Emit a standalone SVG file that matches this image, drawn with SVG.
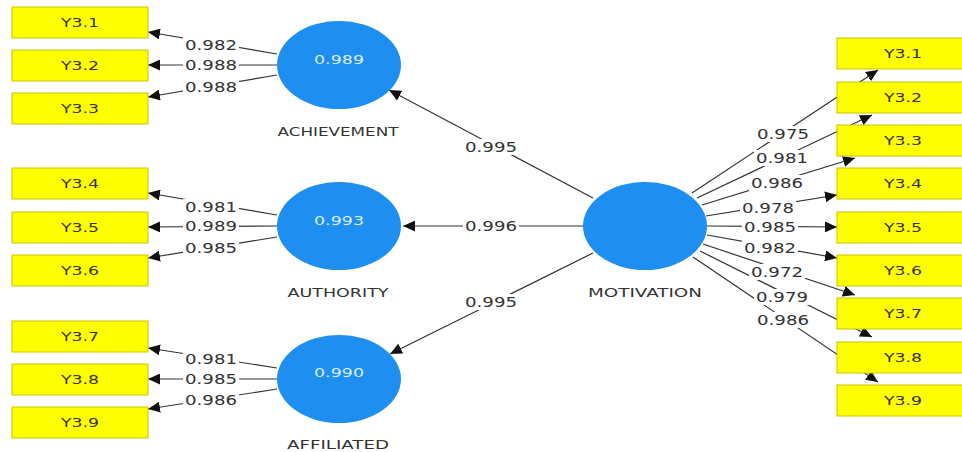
<svg xmlns="http://www.w3.org/2000/svg" width="962" height="452" viewBox="0 0 962 452">
<style>
.box{fill:#ffff00;stroke:#c9c400;stroke-width:1}
.bt{font-family:"DejaVu Sans",Verdana,sans-serif;font-size:13px;fill:#333;text-anchor:middle}
.lv{fill:#1e8ef0}
.lvt{font-family:"DejaVu Sans",Verdana,sans-serif;font-size:13px;fill:#dceeff;text-anchor:middle}
.lvn{font-family:"DejaVu Sans",Verdana,sans-serif;font-size:13px;fill:#333;text-anchor:middle}
.ln{stroke:#333;stroke-width:1.2;fill:none;marker-end:url(#ah)}
.bg{fill:#fff}
.w{font-family:"DejaVu Sans",Verdana,sans-serif;font-size:14px;fill:#333;text-anchor:middle}
</style>
<defs>
<marker id="ah" markerWidth="13" markerHeight="11" refX="12" refY="5.5" orient="auto" markerUnits="userSpaceOnUse">
<path d="M0,0 L12,5.5 L0,11 Z" fill="#111"/>
</marker>
<rect id="lb" class="bg" x="-28" y="-8" width="56" height="16"/>
</defs>
<rect width="962" height="452" fill="#fff"/>
<g id="connectors">
<line class="ln" x1="277" y1="54" x2="148" y2="32"/>
<line class="ln" x1="277" y1="65" x2="148" y2="65"/>
<line class="ln" x1="277" y1="75" x2="148" y2="97"/>
<line class="ln" x1="277" y1="215" x2="148" y2="193"/>
<line class="ln" x1="277" y1="226" x2="148" y2="227"/>
<line class="ln" x1="277" y1="237" x2="148" y2="258"/>
<line class="ln" x1="277" y1="368" x2="148" y2="348"/>
<line class="ln" x1="277" y1="379" x2="148" y2="379"/>
<line class="ln" x1="277" y1="389" x2="148" y2="409"/>
<line class="ln" x1="593" y1="198" x2="389" y2="90"/>
<line class="ln" x1="583" y1="226" x2="403" y2="226"/>
<line class="ln" x1="593" y1="253" x2="390" y2="354"/>
<line class="ln" x1="692" y1="193" x2="878" y2="70"/>
<line class="ln" x1="697" y1="198" x2="872" y2="115"/>
<line class="ln" x1="702" y1="205" x2="855" y2="158"/>
<line class="ln" x1="706" y1="216" x2="837" y2="195"/>
<line class="ln" x1="707" y1="226" x2="837" y2="227"/>
<line class="ln" x1="707" y1="235" x2="837" y2="258"/>
<line class="ln" x1="703" y1="244" x2="855" y2="295"/>
<line class="ln" x1="700" y1="251" x2="872" y2="337"/>
<line class="ln" x1="693" y1="257" x2="878" y2="382"/>
<use href="#lb" x="211" y="45"/><use href="#lb" x="211" y="65"/><use href="#lb" x="211" y="87"/>
<use href="#lb" x="211" y="207"/><use href="#lb" x="211" y="226"/><use href="#lb" x="211" y="248"/>
<use href="#lb" x="211" y="359"/><use href="#lb" x="211" y="379"/><use href="#lb" x="211" y="400"/>
<use href="#lb" x="491" y="147"/><use href="#lb" x="491" y="226"/><use href="#lb" x="491" y="302"/>
<use href="#lb" x="783" y="134"/><use href="#lb" x="782" y="158"/><use href="#lb" x="777" y="183"/>
<use href="#lb" x="768" y="208"/><use href="#lb" x="770" y="227"/><use href="#lb" x="770" y="248"/>
<use href="#lb" x="777" y="272"/><use href="#lb" x="782" y="297"/><use href="#lb" x="783" y="320"/>
<text class="w" x="211" y="50" textLength="52" lengthAdjust="spacingAndGlyphs">0.982</text>
<text class="w" x="211" y="70" textLength="52" lengthAdjust="spacingAndGlyphs">0.988</text>
<text class="w" x="211" y="92" textLength="52" lengthAdjust="spacingAndGlyphs">0.988</text>
<text class="w" x="211" y="212" textLength="52" lengthAdjust="spacingAndGlyphs">0.981</text>
<text class="w" x="211" y="231" textLength="52" lengthAdjust="spacingAndGlyphs">0.989</text>
<text class="w" x="211" y="253" textLength="52" lengthAdjust="spacingAndGlyphs">0.985</text>
<text class="w" x="211" y="364" textLength="52" lengthAdjust="spacingAndGlyphs">0.981</text>
<text class="w" x="211" y="384" textLength="52" lengthAdjust="spacingAndGlyphs">0.985</text>
<text class="w" x="211" y="405" textLength="52" lengthAdjust="spacingAndGlyphs">0.986</text>
<text class="w" x="491" y="152" textLength="52" lengthAdjust="spacingAndGlyphs">0.995</text>
<text class="w" x="491" y="231" textLength="52" lengthAdjust="spacingAndGlyphs">0.996</text>
<text class="w" x="491" y="307" textLength="52" lengthAdjust="spacingAndGlyphs">0.995</text>
<text class="w" x="783" y="139" textLength="52" lengthAdjust="spacingAndGlyphs">0.975</text>
<text class="w" x="782" y="163" textLength="52" lengthAdjust="spacingAndGlyphs">0.981</text>
<text class="w" x="777" y="188" textLength="52" lengthAdjust="spacingAndGlyphs">0.986</text>
<text class="w" x="768" y="213" textLength="52" lengthAdjust="spacingAndGlyphs">0.978</text>
<text class="w" x="770" y="232" textLength="52" lengthAdjust="spacingAndGlyphs">0.985</text>
<text class="w" x="770" y="253" textLength="52" lengthAdjust="spacingAndGlyphs">0.982</text>
<text class="w" x="777" y="277" textLength="52" lengthAdjust="spacingAndGlyphs">0.972</text>
<text class="w" x="782" y="302" textLength="52" lengthAdjust="spacingAndGlyphs">0.979</text>
<text class="w" x="783" y="325" textLength="52" lengthAdjust="spacingAndGlyphs">0.986</text>
</g>
<g id="ach"><ellipse class="lv" cx="339" cy="65" rx="62" ry="44"/><text class="lvt" x="339" y="64" textLength="50" lengthAdjust="spacingAndGlyphs">0.989</text><text class="lvn" x="338" y="136" textLength="121" lengthAdjust="spacingAndGlyphs">ACHIEVEMENT</text></g>
<g id="aut"><ellipse class="lv" cx="339" cy="226" rx="62" ry="44"/><text class="lvt" x="339" y="225" textLength="50" lengthAdjust="spacingAndGlyphs">0.993</text><text class="lvn" x="338" y="297" textLength="101" lengthAdjust="spacingAndGlyphs">AUTHORITY</text></g>
<g id="aff"><ellipse class="lv" cx="339" cy="379" rx="62" ry="44"/><text class="lvt" x="339" y="377" textLength="50" lengthAdjust="spacingAndGlyphs">0.990</text><text class="lvn" x="338" y="449" textLength="102" lengthAdjust="spacingAndGlyphs">AFFILIATED</text></g>
<g id="mot"><ellipse class="lv" cx="645" cy="226" rx="62" ry="44"/><text class="lvn" x="645" y="297" textLength="114" lengthAdjust="spacingAndGlyphs">MOTIVATION</text></g>
<g id="l1"><rect class="box" x="12" y="7" width="136" height="31"/><text class="bt" x="80" y="27" textLength="38" lengthAdjust="spacingAndGlyphs">Y3.1</text></g>
<g id="l2"><rect class="box" x="12" y="50" width="136" height="31"/><text class="bt" x="80" y="70" textLength="38" lengthAdjust="spacingAndGlyphs">Y3.2</text></g>
<g id="l3"><rect class="box" x="12" y="93" width="136" height="31"/><text class="bt" x="80" y="113" textLength="38" lengthAdjust="spacingAndGlyphs">Y3.3</text></g>
<g id="l4"><rect class="box" x="12" y="168" width="136" height="31"/><text class="bt" x="80" y="188" textLength="38" lengthAdjust="spacingAndGlyphs">Y3.4</text></g>
<g id="l5"><rect class="box" x="12" y="212" width="136" height="31"/><text class="bt" x="80" y="232" textLength="38" lengthAdjust="spacingAndGlyphs">Y3.5</text></g>
<g id="l6"><rect class="box" x="12" y="255" width="136" height="31"/><text class="bt" x="80" y="275" textLength="38" lengthAdjust="spacingAndGlyphs">Y3.6</text></g>
<g id="l7"><rect class="box" x="12" y="321" width="136" height="31"/><text class="bt" x="80" y="341" textLength="38" lengthAdjust="spacingAndGlyphs">Y3.7</text></g>
<g id="l8"><rect class="box" x="12" y="364" width="136" height="31"/><text class="bt" x="80" y="384" textLength="38" lengthAdjust="spacingAndGlyphs">Y3.8</text></g>
<g id="l9"><rect class="box" x="12" y="407" width="136" height="31"/><text class="bt" x="80" y="427" textLength="38" lengthAdjust="spacingAndGlyphs">Y3.9</text></g>
<g id="r1"><rect class="box" x="837" y="38" width="136" height="31"/><text class="bt" x="903" y="58" textLength="38" lengthAdjust="spacingAndGlyphs">Y3.1</text></g>
<g id="r2"><rect class="box" x="837" y="82" width="136" height="31"/><text class="bt" x="903" y="102" textLength="38" lengthAdjust="spacingAndGlyphs">Y3.2</text></g>
<g id="r3"><rect class="box" x="837" y="125" width="136" height="31"/><text class="bt" x="903" y="145" textLength="38" lengthAdjust="spacingAndGlyphs">Y3.3</text></g>
<g id="r4"><rect class="box" x="837" y="168" width="136" height="31"/><text class="bt" x="903" y="188" textLength="38" lengthAdjust="spacingAndGlyphs">Y3.4</text></g>
<g id="r5"><rect class="box" x="837" y="212" width="136" height="31"/><text class="bt" x="903" y="232" textLength="38" lengthAdjust="spacingAndGlyphs">Y3.5</text></g>
<g id="r6"><rect class="box" x="837" y="255" width="136" height="31"/><text class="bt" x="903" y="275" textLength="38" lengthAdjust="spacingAndGlyphs">Y3.6</text></g>
<g id="r7"><rect class="box" x="837" y="298" width="136" height="31"/><text class="bt" x="903" y="318" textLength="38" lengthAdjust="spacingAndGlyphs">Y3.7</text></g>
<g id="r8"><rect class="box" x="837" y="342" width="136" height="31"/><text class="bt" x="903" y="362" textLength="38" lengthAdjust="spacingAndGlyphs">Y3.8</text></g>
<g id="r9"><rect class="box" x="837" y="385" width="136" height="31"/><text class="bt" x="903" y="405" textLength="38" lengthAdjust="spacingAndGlyphs">Y3.9</text></g>
</svg>
